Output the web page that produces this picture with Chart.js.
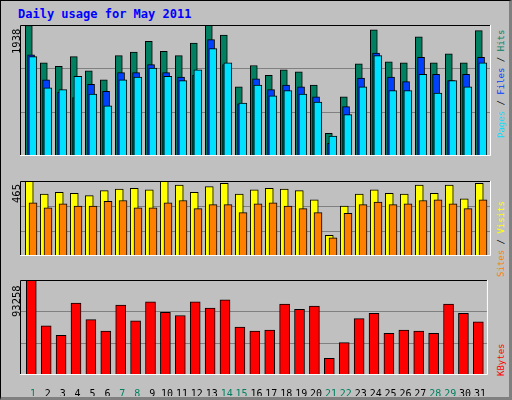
<!DOCTYPE html>
<html>
<head>
<meta charset="utf-8">
<script src="https://cdn.jsdelivr.net/npm/chart.js@4"></script>
<style>
  body { margin: 0; background: #fff; }
  #frame { position: absolute; left: 0; top: 0; width: 508px; height: 396px; background: #c0c0c0;
           border: 1px solid #000; border-right: 3px solid #808080; border-bottom: 3px solid #808080; }
  .box { position: absolute; }
  .lbl { position: absolute; font-family: "DejaVu Sans Mono", monospace; font-size: 10.5px; white-space: nowrap;
         transform-origin: 0 0; transform: rotate(-90deg); }
  .rl { font-size: 9px; }
  #title { position: absolute; left: 18px; top: 7px; font: bold 12px "DejaVu Sans Mono", monospace; color: #0000ff; }
</style>
</head>
<body>
<div id="frame"></div>
<div id="title">Daily usage for May 2011</div>
<div class="box" style="left:20px;top:25px;width:471px;height:152px"><canvas id="c1"></canvas></div>
<div class="box" style="left:20px;top:181px;width:471px;height:96px"><canvas id="c2"></canvas></div>
<div class="box" style="left:20px;top:280px;width:471px;height:116px"><canvas id="c3"></canvas></div>
<div class="lbl" style="left:10px;top:54px">1938</div>
<div class="lbl" style="left:10px;top:203px">465</div>
<div class="lbl" style="left:10px;top:317px">93258</div>
<div class="lbl rl" style="left:496px;top:138px"><span style="color:#00e0ff">Pages</span> / <span style="color:#0040ff">Files</span> / <span style="color:#008060">Hits</span></div>
<div class="lbl rl" style="left:496px;top:277px"><span style="color:#ff8000">Sites</span> / <span style="color:#ffff00">Visits</span></div>
<div class="lbl rl" style="left:496px;top:376px;color:#ff0000">KBytes</div>
<script>
const days = Array.from({length: 31}, (_, i) => i + 1);
const weekend = [1, 7, 8, 14, 15, 21, 22, 28, 29];
const hits = [1930,1379,1326,1471,1260,1128,1484,1537,1696,1550,1484,1669,1938,1788,1022,1339,1194,1273,1247,1048,335,877,1365,1868,1392,1379,1762,1379,1511,1379,1854];
const files = [1498,1128,947,863,1062,956,1233,1233,1352,1233,1167,1194,1722,1352,771,1141,982,1048,1022,877,189,731,1154,1524,1167,1101,1458,1207,1114,1207,1458];
const pages = [1471,1009,982,1180,916,744,1128,1167,1299,1180,1114,1273,1590,1379,784,1048,890,969,916,797,295,612,1022,1484,969,969,1207,929,1114,1022,1379];
const visits = [465,384,395,389,374,405,415,420,410,463,440,395,430,450,384,410,420,415,405,349,128,309,384,410,389,384,440,389,440,354,450];
const sites = [329,299,324,309,309,339,344,299,299,329,344,294,319,319,269,324,329,309,294,269,112,264,319,334,319,324,344,349,324,294,349];
const kbytes = [93258,48167,38944,70713,54316,43043,68663,53291,71737,61489,58415,71737,65589,73787,47142,43043,44068,69688,64564,67638,16397,31770,55341,60465,40993,44068,43043,40993,69688,60465,52266];

const XMIN = 0.133, XMAX = 31.533;

function ds(values, shift, color, width, order) {
  return {
    data: values.map((v, i) => ({x: days[i] + shift, y: v})),
    backgroundColor: color, borderColor: '#000', borderWidth: 1,
    barThickness: width, order: order, borderSkipped: false, grouped: false
  };
}

// black top/left edge, white bottom/right edge
const framePlugin = {
  id: 'frame',
  afterDraw(chart) {
    const a = chart.chartArea, c = chart.ctx;
    c.save();
    c.lineWidth = 1;
    c.strokeStyle = '#000';
    c.beginPath(); c.moveTo(a.left + 0.5, a.bottom); c.lineTo(a.left + 0.5, a.top + 0.5); c.lineTo(a.right, a.top + 0.5); c.stroke();
    c.strokeStyle = '#fff';
    c.beginPath(); c.moveTo(a.right - 0.5, a.top); c.lineTo(a.right - 0.5, a.bottom - 0.5); c.lineTo(a.left, a.bottom - 0.5); c.stroke();
    c.restore();
  }
};

function makeChart(id, datasets, max, showX) {
  new Chart(document.getElementById(id), {
    type: 'bar',
    data: { datasets: datasets },
    plugins: [framePlugin],
    options: {
      responsive: true, maintainAspectRatio: false, animation: false,
      layout: { padding: 0 },
      plugins: { legend: { display: false }, tooltip: { enabled: false } },
      scales: {
        x: {
          type: 'linear', min: XMIN, max: XMAX, display: showX, offset: false,
          grid: { display: false }, border: { display: false },
          afterBuildTicks: s => { s.ticks = days.map(d => ({value: d})); },
          afterFit: s => { s.height = 21; },
          ticks: {
            autoSkip: false, maxRotation: 0, padding: 5,
            font: { family: 'DejaVu Sans Mono', size: 10 },
            color: c => weekend.includes(c.tick.value) ? '#008060' : '#000'
          }
        },
        y: {
          min: 0, max: max, display: true,
          afterBuildTicks: s => { s.ticks = [{value: max / 3}, {value: max * 2 / 3}]; },
          afterFit: s => { s.width = 0; },
          ticks: { display: false },
          border: { display: false },
          grid: { color: '#808080', lineWidth: 1, drawTicks: false }
        }
      }
    }
  });
}

makeChart('c1', [
  ds(hits, -0.28, '#008060', 7, 3),
  ds(files, -0.13, '#0040ff', 7, 2),
  ds(pages, -0.01, '#00e0ff', 8, 1)
], 1938, false);

makeChart('c2', [
  ds(visits, -0.25, '#ffff00', 8, 2),
  ds(sites, 0.0, '#ff8000', 8, 1)
], 465, false);

makeChart('c3', [
  ds(kbytes, -0.11, '#ff0000', 10, 1)
], 93258, true);
</script>
</body>
</html>
